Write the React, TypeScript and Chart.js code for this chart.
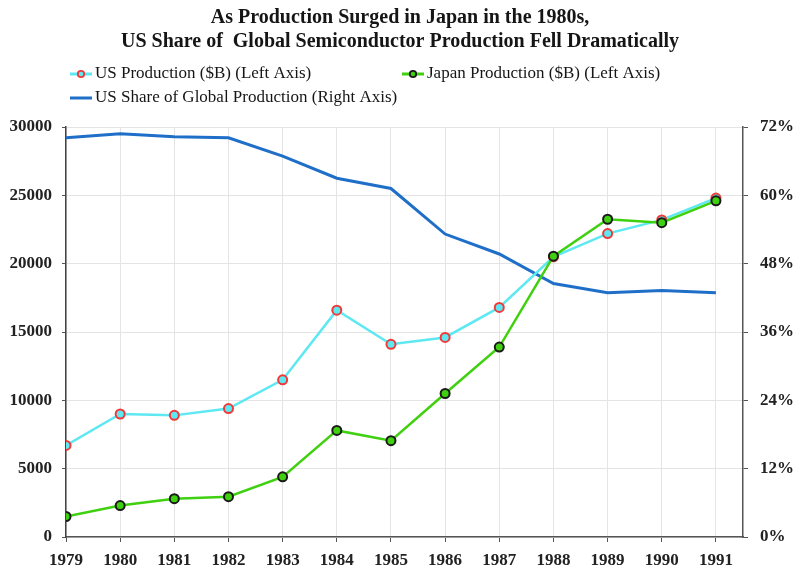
import React, { useEffect, useRef } from "react";
import { Chart, registerables } from "chart.js";

Chart.register(...registerables);

const years = [1979, 1980, 1981, 1982, 1983, 1984, 1985, 1986, 1987, 1988, 1989, 1990, 1991];
const usProduction = [6700, 9000, 8900, 9400, 11500, 16600, 14100, 14600, 16800, 20500, 22200, 23200, 24800];
const japanProduction = [1500, 2300, 2800, 2950, 4400, 7800, 7050, 10500, 13900, 20550, 23250, 23000, 24600];
const usShare = [70.1, 70.8, 70.3, 70.1, 66.9, 63.0, 61.2, 53.2, 49.7, 44.5, 42.9, 43.3, 42.9];

const titleLines = [
  "As Production Surged in Japan in the 1980s,",
  "US Share of  Global Semiconductor Production Fell Dramatically",
];
const legendLabels = [
  "US Production ($B) (Left Axis)",
  "Japan Production ($B) (Left Axis)",
  "US Share of Global Production (Right Axis)",
];

const CYAN = "#5ee8f2";
const RED = "#f03a3a";
const GREEN = "#3fd10f";
const BLUE = "#1f6fc9";
const SERIF = "'Liberation Serif', 'Times New Roman', serif";

const headerPlugin = {
  id: "header",
  afterDraw(chart: any) {
    const ctx = chart.ctx;
    const area = chart.chartArea;
    ctx.save();
    ctx.fillStyle = "#151515";
    ctx.textAlign = "center";
    ctx.textBaseline = "middle";
    ctx.font = `bold 20px ${SERIF}`;
    ctx.fillText(titleLines[0], chart.width / 2, 18);
    ctx.fillText(titleLines[1], chart.width / 2, 42);

    const items = [
      { label: legendLabels[0], line: CYAN, mBorder: RED, mFill: CYAN, x: area.left + 4, y: area.top - 53 },
      { label: legendLabels[1], line: GREEN, mBorder: "#1a1a1a", mFill: GREEN, x: chart.width / 2 + 2, y: area.top - 53 },
      { label: legendLabels[2], line: BLUE, mBorder: null, mFill: null, x: area.left + 4, y: area.top - 29 },
    ];
    ctx.font = `17px ${SERIF}`;
    ctx.textAlign = "left";
    for (const it of items) {
      ctx.strokeStyle = it.line;
      ctx.lineWidth = 3;
      ctx.beginPath();
      ctx.moveTo(it.x, it.y);
      ctx.lineTo(it.x + 22, it.y);
      ctx.stroke();
      if (it.mBorder) {
        ctx.beginPath();
        ctx.arc(it.x + 11, it.y, 3.2, 0, Math.PI * 2);
        ctx.fillStyle = it.mFill;
        ctx.fill();
        ctx.lineWidth = 1.8;
        ctx.strokeStyle = it.mBorder;
        ctx.stroke();
      }
      ctx.fillStyle = "#151515";
      ctx.fillText(it.label, it.x + 25, it.y);
    }
    ctx.restore();
  },
};

export default function App() {
  const ref = useRef<HTMLCanvasElement | null>(null);

  useEffect(() => {
    document.body.style.margin = "0";
    if (!ref.current) return;
    const tickFont = { family: SERIF, size: 17, weight: "bold" as const };
    const chart = new Chart(ref.current, {
      type: "line",
      data: {
        datasets: [
          {
            label: legendLabels[0],
            data: years.map((y, i) => ({ x: y, y: usProduction[i] })),
            borderColor: CYAN,
            backgroundColor: CYAN,
            borderWidth: 2.5,
            pointRadius: 4.5,
            pointBorderWidth: 2,
            pointBorderColor: RED,
            pointBackgroundColor: CYAN,
            yAxisID: "y",
            order: 1,
          },
          {
            label: legendLabels[1],
            data: years.map((y, i) => ({ x: y, y: japanProduction[i] })),
            borderColor: GREEN,
            backgroundColor: GREEN,
            borderWidth: 2.5,
            pointRadius: 4.5,
            pointBorderWidth: 2,
            pointBorderColor: "#1a1a1a",
            pointBackgroundColor: GREEN,
            yAxisID: "y",
            order: 0,
          },
          {
            label: legendLabels[2],
            data: years.map((y, i) => ({ x: y, y: usShare[i] })),
            borderColor: BLUE,
            backgroundColor: BLUE,
            borderWidth: 3,
            pointRadius: 0,
            yAxisID: "y1",
            order: 2,
          },
        ],
      },
      options: {
        animation: false,
        responsive: false,
        maintainAspectRatio: false,
        layout: { padding: { top: 127, left: 0, right: 0, bottom: 0 } },
        plugins: {
          legend: { display: false },
          title: { display: false },
          tooltip: { enabled: false },
        },
        scales: {
          x: {
            type: "linear",
            min: years[0],
            max: years[years.length - 1] + 0.5,
            afterBuildTicks: (scale: any) => {
              scale.ticks = years.map((v) => ({ value: v }));
            },
            afterFit: (scale: any) => {
              scale.height = 38;
            },
            ticks: {
              stepSize: 1,
              autoSkip: false,
              maxRotation: 0,
              padding: 8,
              color: "#222",
              font: tickFont,
              callback: (v: any) => String(v),
            },
            grid: { color: "#e4e4e4", tickColor: "#555", tickLength: 5, lineWidth: 1 },
            border: { display: true, color: "#555", width: 1.5 },
          },
          y: {
            type: "linear",
            position: "left",
            min: 0,
            max: 30000,
            afterFit: (scale: any) => {
              scale.width = 66;
            },
            ticks: {
              stepSize: 5000,
              padding: 10,
              color: "#222",
              font: tickFont,
              callback: (v: any) => String(v),
            },
            grid: { color: "#e4e4e4", tickColor: "#555", tickLength: 4, lineWidth: 1 },
            border: { display: true, color: "#444", width: 1.5 },
          },
          y1: {
            type: "linear",
            position: "right",
            min: 0,
            max: 72,
            afterFit: (scale: any) => {
              scale.width = 57;
            },
            ticks: {
              stepSize: 12,
              padding: 12,
              color: "#222",
              font: tickFont,
              callback: (v: any) => v + "%",
            },
            grid: { drawOnChartArea: false, tickColor: "#555", tickLength: 5 },
            border: { display: true, color: "#555", width: 1.5 },
          },
        },
      },
      plugins: [headerPlugin],
    });
    return () => chart.destroy();
  }, []);

  return (
    <div style={{ width: 800, height: 575, background: "#fff" }}>
      <canvas ref={ref} width={800} height={575} style={{ display: "block", width: 800, height: 575 }} />
    </div>
  );
}
